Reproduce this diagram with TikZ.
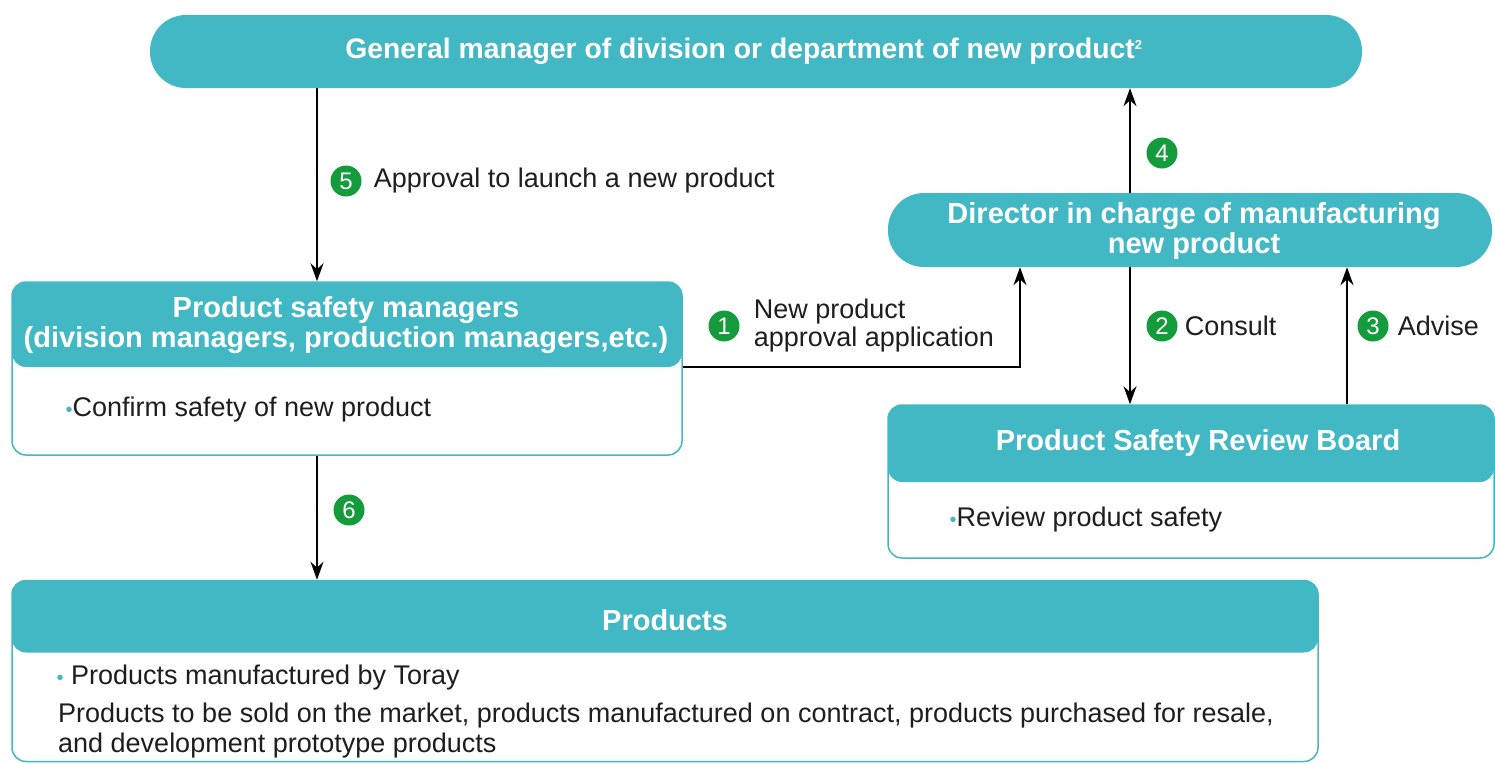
\documentclass[tikz,border=0pt]{standalone}
\usepackage{fontspec}
\setmainfont{Liberation Sans}
\usetikzlibrary{positioning,arrows.meta,calc}

\definecolor{tealc}{RGB}{66,184,196}
\definecolor{numgreen}{RGB}{20,155,60}
\definecolor{txt}{RGB}{30,30,30}

\tikzset{
  pill/.style={fill=tealc, rounded corners=36pt, text=white, align=center,
    font=\fontsize{29}{30}\selectfont\bfseries},
  card/.style={draw=tealc, line width=1.5pt, fill=white, rounded corners=14pt,
    path picture={\fill[tealc] (path picture bounding box.north west)
      rectangle ([yshift=-#1]path picture bounding box.north east);}},
  hdr/.style={text=white, align=center, font=\fontsize{29}{30}\selectfont\bfseries},
  body/.style={text=txt, align=left, font=\fontsize{27}{30}\selectfont},
  num/.style={circle, fill=numgreen, text=white, inner sep=0pt, minimum size=31pt,
    font=\fontsize{24}{24}\selectfont},
  lbl/.style={text=txt, align=left, inner sep=0pt, font=\fontsize{27}{27}\selectfont},
  flow/.style={-{Stealth[length=18pt,width=13pt]}, line width=1.6pt, black}
}
\newcommand{\tbul}{{\color{tealc}\fontsize{20}{20}\selectfont\textbullet}}

\begin{document}
\begin{tikzpicture}[x=1pt,y=-1pt]
\useasboundingbox (0,0) rectangle (1495,763);

% boxes
\node[pill, minimum width=1212pt, minimum height=73pt] (gm) at (756,51.5) {};
\node[hdr, font=\fontsize{28.3}{30}\selectfont\bfseries] (gmtext) at (744,51.5)
  {General manager of division or department of new product\textsuperscript{\fontsize{13}{13}\selectfont 2}};
\node[pill, minimum width=604pt, minimum height=74pt] (dir) at (1190,230) {};
\node[hdr] (dirtext) at (1194,231) {Director in charge of manufacturing\\new product};

\node[card=85pt, minimum width=670pt, minimum height=173pt] (psm) at (347,368.5) {};
\node[hdr] (psmhdr) at (346,325)
  {Product safety managers\\(division managers, production managers,etc.)};
\node[body, anchor=west] (psmbody) at (62,410) {\tbul Confirm safety of new product};

\node[card=77pt, minimum width=606pt, minimum height=153pt] (psrb) at (1191,481.5) {};
\node[hdr] (psrbhdr) at (1198,443) {Product Safety Review Board};
\node[body, anchor=west] (psrbbody) at (946,520) {\tbul Review product safety};

\node[card=72pt, minimum width=1306pt, minimum height=181pt] (prod) at (665,671) {};
\node[hdr] (prodhdr) at (665,620) {Products};
\node[body, anchor=west] (prodbul) at (53,678) {\tbul\ Products manufactured by Toray};
\node[body, anchor=west, inner sep=0pt] (prodbody) at (58,731)
  {Products to be sold on the market, products manufactured on contract, products purchased for resale,\\
   and development prototype products};

% connectors
\coordinate (c5) at ([xshift=-30pt]psm.north);
\draw[flow] (c5 |- gm.south) -- (c5);
\coordinate (c1) at ([xshift=-170pt]dir.south);
\draw[flow] ([yshift=1.5pt]psm.east) -| (c1);
\coordinate (c4) at ([xshift=-60pt]dir.north);
\draw[flow] (c4) -- (c4 |- gm.south);
\coordinate (c2) at ([xshift=-60pt]dir.south);
\draw[flow] (c2) -- (c2 |- psrb.north);
\coordinate (c3) at ([xshift=156pt]psrb.north);
\draw[flow] (c3) -- (c3 |- dir.south);
\coordinate (c6) at ([xshift=-30pt]psm.south);
\draw[flow] (c6) -- (c6 |- prod.north);

% step labels
\node[num] (n5) at (346,181) {5};
\node[lbl, right=12pt of n5] (l5) {Approval to launch a new product};
\node[num] (n1) at (724,326) {1};
\node[lbl, right=14pt of n1, font=\fontsize{27}{28}\selectfont] (l1) {New product\\approval application};
\node[num] (n4) at (1162,153) {4};
\node[num] (n2) at (1162,326) {2};
\node[lbl, right=7pt of n2] (l2) {Consult};
\node[num] (n3) at (1373,326) {3};
\node[lbl, right=9pt of n3] (l3) {Advise};
\node[num] (n6) at (349,510) {6};
\end{tikzpicture}
\end{document}
